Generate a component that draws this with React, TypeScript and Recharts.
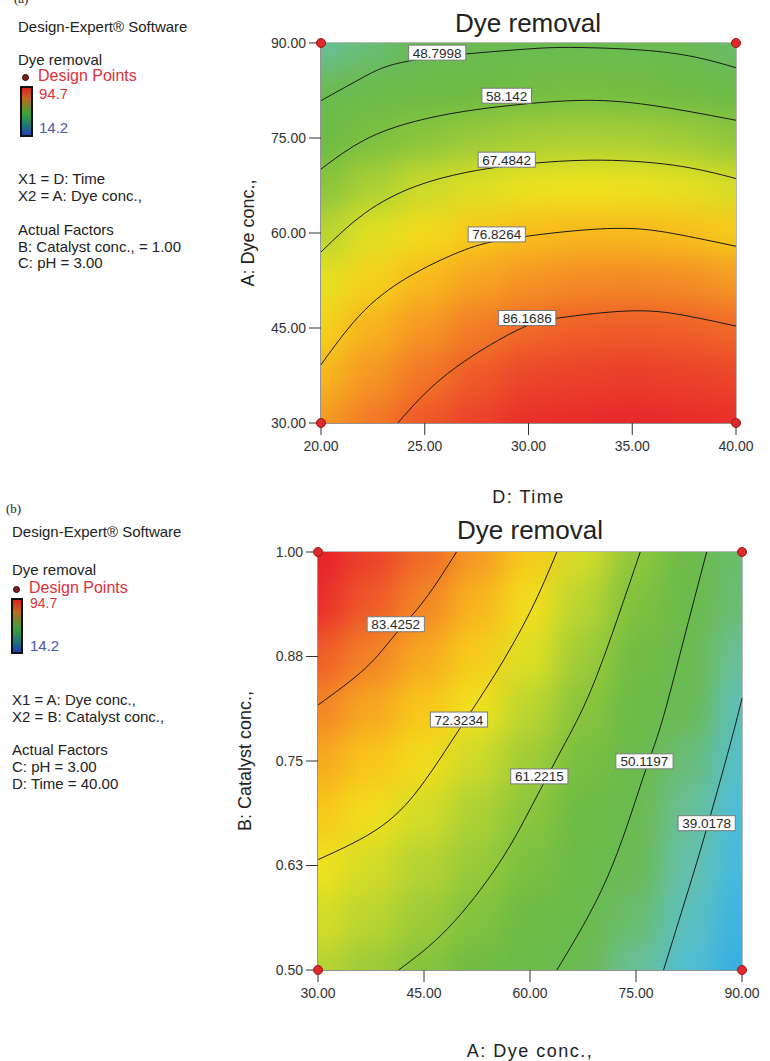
import React from "react";
import { ComposedChart, XAxis, YAxis, Scatter, ReferenceArea } from "recharts";

const FONT = '"Liberation Sans", Arial, Helvetica, sans-serif';

// ---------- panel (a): Time vs Dye conc. ----------
const timeTicks = [20, 25, 30, 35, 40];
const dyeTicksA = [30, 45, 60, 75, 90];
const gridTime = [20, 22.5, 25, 27.5, 30, 32.5, 35, 37.5, 40];
const gridDyeA = [30, 37.5, 45, 52.5, 60, 67.5, 75, 82.5, 90];
const removalA = [
  [80.9, 84.5, 88.5, 91.0, 93.0, 93.5, 93.8, 93.5, 93.0],
  [77.6, 81.2, 84.9, 88.1, 90.4, 91.0, 91.3, 91.0, 90.5],
  [73.8, 78.0, 81.1, 84.1, 86.2, 87.5, 87.9, 87.4, 86.4],
  [70.0, 74.0, 77.3, 79.8, 81.5, 82.5, 82.7, 82.2, 80.8],
  [65.5, 69.6, 72.4, 75.1, 76.8, 77.4, 77.3, 76.7, 75.0],
  [60.1, 64.1, 67.3, 69.2, 70.5, 71.0, 70.8, 70.0, 68.5],
  [53.9, 57.7, 60.3, 62.4, 63.6, 64.0, 63.8, 62.9, 61.0],
  [47.4, 50.7, 53.2, 55.0, 56.0, 56.5, 56.2, 55.1, 52.8],
  [40.9, 43.7, 46.2, 47.2, 47.7, 48.0, 47.7, 46.5, 44.4],
];
const contourA1 = [
  { x: 20, y: 80.9 }, { x: 22.1, y: 84.7 }, { x: 24.5, y: 87.3 }, { x: 29.3, y: 88.9 },
  { x: 32.1, y: 89.3 }, { x: 35.4, y: 88.9 }, { x: 38, y: 87.8 }, { x: 40, y: 86.1 },
];
const contourA2 = [
  { x: 20, y: 70.1 }, { x: 22.1, y: 74.7 }, { x: 24.5, y: 77.6 }, { x: 26.9, y: 79.2 },
  { x: 29.3, y: 80.2 }, { x: 32.1, y: 80.9 }, { x: 35.4, y: 80.4 }, { x: 40, y: 77.8 },
];
const contourA3 = [
  { x: 20, y: 57.0 }, { x: 22.1, y: 63.1 }, { x: 24.5, y: 67.3 }, { x: 26.9, y: 69.5 },
  { x: 29.3, y: 70.7 }, { x: 33, y: 71.5 }, { x: 37, y: 70.7 }, { x: 40, y: 68.6 },
];
const contourA4 = [
  { x: 20, y: 39.2 }, { x: 22.1, y: 47.8 }, { x: 24.5, y: 53.6 }, { x: 26.9, y: 57.3 },
  { x: 29.3, y: 59.2 }, { x: 33.8, y: 60.7 }, { x: 37, y: 59.9 }, { x: 40, y: 57.9 },
];
const contourA5 = [
  { x: 23.7, y: 30 }, { x: 26.1, y: 37.8 }, { x: 29.3, y: 44.4 }, { x: 31.5, y: 46.6 },
  { x: 34.9, y: 47.7 }, { x: 37.5, y: 47.0 }, { x: 40, y: 45.3 },
];
const labelsA = [
  { x: 25.6, y: 88.4, text: "48.7998" },
  { x: 28.95, y: 81.6, text: "58.142" },
  { x: 28.95, y: 71.5, text: "67.4842" },
  { x: 28.47, y: 59.7, text: "76.8264" },
  { x: 29.94, y: 46.5, text: "86.1686" },
];
const designA = [
  { x: 20, y: 90 }, { x: 40, y: 90 }, { x: 20, y: 30 }, { x: 40, y: 30 },
];

// ---------- panel (b): Dye conc. vs Catalyst conc. ----------
const dyeTicksB = [30, 45, 60, 75, 90];
const catalystTicks = [0.5, 0.625, 0.75, 0.875, 1.0];
const gridDyeB = [30, 37.5, 45, 52.5, 60, 67.5, 75, 82.5, 90];
const gridCatalyst = [0.5, 0.5625, 0.625, 0.6875, 0.75, 0.8125, 0.875, 0.9375, 1.0];
const removalB = [
  [65.3, 62.6, 59.2, 55.5, 51.7, 46.9, 41.3, 34.9, 27.9],
  [68.4, 65.8, 62.7, 58.8, 54.7, 50.6, 44.1, 37.3, 30.0],
  [71.3, 68.2, 65.2, 62.1, 57.5, 52.2, 46.1, 39.5, 32.0],
  [75.3, 72.0, 68.2, 64.3, 60.3, 54.4, 48.4, 41.1, 33.6],
  [79.1, 75.7, 72.3, 67.5, 62.8, 57.0, 50.7, 43.3, 35.8],
  [83.1, 79.3, 75.5, 71.4, 65.8, 60.1, 53.4, 46.0, 37.9],
  [87.6, 83.4, 79.0, 74.6, 69.2, 62.8, 55.8, 48.6, 41.0],
  [92.9, 88.1, 83.1, 77.7, 72.0, 65.6, 58.4, 50.6, 43.6],
  [94.5, 91.0, 86.2, 80.9, 74.9, 68.3, 61.1, 52.8, 44.2],
];
const contourB1 = [
  { x: 30, y: 0.817 }, { x: 36.7, y: 0.861 }, { x: 40.9, y: 0.901 }, { x: 45.1, y: 0.943 },
  { x: 49.6, y: 1.0 },
];
const contourB2 = [
  { x: 30, y: 0.632 }, { x: 39.0, y: 0.672 }, { x: 45.0, y: 0.725 }, { x: 50.0, y: 0.788 },
  { x: 55.0, y: 0.853 }, { x: 60.0, y: 0.928 }, { x: 63.8, y: 1.0 },
];
const contourB3 = [
  { x: 41.4, y: 0.5 }, { x: 48.4, y: 0.55 }, { x: 55.5, y: 0.626 }, { x: 60.3, y: 0.697 },
  { x: 65.0, y: 0.772 }, { x: 69.4, y: 0.851 }, { x: 75.6, y: 1.0 },
];
const contourB4 = [
  { x: 63.8, y: 0.5 }, { x: 70.9, y: 0.61 }, { x: 75.8, y: 0.725 }, { x: 78.6, y: 0.795 },
  { x: 81.6, y: 0.89 }, { x: 85.0, y: 1.0 },
];
const contourB5 = [
  { x: 78.9, y: 0.5 }, { x: 82.2, y: 0.59 }, { x: 85.0, y: 0.669 }, { x: 88.3, y: 0.769 },
  { x: 90, y: 0.825 },
];
const labelsB = [
  { x: 41.0, y: 0.913, text: "83.4252" },
  { x: 49.95, y: 0.799, text: "72.3234" },
  { x: 61.32, y: 0.731, text: "61.2215" },
  { x: 76.2, y: 0.749, text: "50.1197" },
  { x: 85.0, y: 0.675, text: "39.0178" },
];
const designB = [
  { x: 30, y: 1.0 }, { x: 90, y: 1.0 }, { x: 30, y: 0.5 }, { x: 90, y: 0.5 },
];

// Design-Expert style colour ramp
const colorStops: [number, string][] = [
  [14.2, "#2340b0"],
  [26, "#2fa8e4"],
  [33, "#48bde0"],
  [40, "#68c0a8"],
  [46, "#6abb55"],
  [55, "#6cbb44"],
  [61, "#8ec63c"],
  [66, "#bcd631"],
  [71, "#f0e41d"],
  [76, "#f8c41b"],
  [81, "#f59824"],
  [86, "#f06c28"],
  [90, "#ec4a2a"],
  [94.7, "#e6202a"],
];

function hexToRgb(h: string) {
  const n = parseInt(h.slice(1), 16);
  return [(n >> 16) & 255, (n >> 8) & 255, n & 255];
}

function colorFor(v: number) {
  if (v <= colorStops[0][0]) return colorStops[0][1];
  for (let i = 1; i < colorStops.length; i++) {
    const [v1, c1] = colorStops[i];
    if (v <= v1) {
      const [v0, c0] = colorStops[i - 1];
      const t = (v - v0) / (v1 - v0);
      const a = hexToRgb(c0);
      const b = hexToRgb(c1);
      const m = a.map((x, k) => Math.round(x + (b[k] - x) * t));
      return `rgb(${m[0]},${m[1]},${m[2]})`;
    }
  }
  return colorStops[colorStops.length - 1][1];
}

function toCells(xs: number[], ys: number[], rows: number[][]) {
  return rows.flatMap((row, i) => row.map((v, j) => ({ x: xs[j], y: ys[i], v })));
}

const heatShape = (cw: number, ch: number) => (p: any) => {
  const v = p.payload?.v ?? p.v;
  return (
    <rect
      x={p.cx - cw / 2 - 0.5}
      y={p.cy - ch / 2 - 0.5}
      width={cw + 1}
      height={ch + 1}
      fill={colorFor(v)}
    />
  );
};

const labelShape = (p: any) => {
  const text = p.payload?.text ?? p.text;
  const w = text.length * 7.6 + 4;
  return (
    <g>
      <rect x={p.cx - w / 2} y={p.cy - 8} width={w} height={15} fill="#fff" stroke="#7a7a7a" strokeWidth={1} />
      <text
        x={p.cx}
        y={p.cy + 4.5}
        textAnchor="middle"
        fontSize={13.5}
        fontFamily={FONT}
        fill="#2a2a2a"
      >
        {text}
      </text>
    </g>
  );
};

const designShape = (p: any) => (
  <circle cx={p.cx} cy={p.cy} r={4.5} fill="#dc2a2a" stroke="#a01515" strokeWidth={1} />
);

const noShape = () => <g />;

const tickStyle = { fontSize: 14, fill: "#333", fontFamily: FONT };

function Txt({
  x,
  base,
  size = 15,
  color = "#222",
  family = FONT,
  children,
}: {
  x: number;
  base: number;
  size?: number;
  color?: string;
  family?: string;
  children: React.ReactNode;
}) {
  return (
    <div
      style={{
        position: "absolute",
        left: x,
        top: base - size * 0.8465,
        fontSize: size,
        lineHeight: `${size}px`,
        fontFamily: family,
        color,
        whiteSpace: "nowrap",
      }}
    >
      {children}
    </div>
  );
}

function ColorBar({ x, y, w, h }: { x: number; y: number; w: number; h: number }) {
  return (
    <div
      style={{
        position: "absolute",
        left: x,
        top: y,
        width: w,
        height: h,
        boxSizing: "border-box",
        border: "2px solid #111",
        background: "linear-gradient(to bottom, #e02020 0%, #c06a20 22%, #3aa23a 55%, #1f7a70 78%, #2040b0 100%)",
      }}
    />
  );
}

function LegendDot({ x, y }: { x: number; y: number }) {
  return (
    <div
      style={{
        position: "absolute",
        left: x - 3.5,
        top: y - 3.5,
        width: 7,
        height: 7,
        borderRadius: "50%",
        boxSizing: "border-box",
        background: "#8b1a1a",
        border: "1.5px solid #111",
      }}
    />
  );
}

interface ContourPanelProps {
  top: number;
  height: number;
  margin: { top: number; right: number; bottom: number; left: number };
  xDomain: [number, number];
  yDomain: [number, number];
  xTicks: number[];
  yTicks: number[];
  gridX: number[];
  gridY: number[];
  values: number[][];
  contours: { x: number; y: number }[][];
  labels: { x: number; y: number; text: string }[];
  design: { x: number; y: number }[];
  xTitle: string;
  yTitle: string;
  xTitleDy: number;
}

function ContourPanel(props: ContourPanelProps) {
  const { top, height, margin, xDomain, yDomain } = props;
  const W = 770;
  const plotW = W - margin.left - 60 - margin.right;
  const plotH = height - margin.top - margin.bottom - 40;
  const cw = plotW / (props.gridX.length - 1);
  const ch = plotH / (props.gridY.length - 1);
  const cells = toCells(props.gridX, props.gridY, props.values);

  return (
    <div style={{ position: "absolute", left: 0, top }}>
      <ComposedChart width={W} height={height} margin={margin}>
        <XAxis xAxisId="h" type="number" dataKey="x" domain={xDomain} hide allowDataOverflow />
        <YAxis yAxisId="h" type="number" dataKey="y" domain={yDomain} hide allowDataOverflow />
        <XAxis
          type="number"
          dataKey="x"
          domain={xDomain}
          ticks={props.xTicks}
          interval={0}
          tickFormatter={(v: number) => v.toFixed(2)}
          tick={tickStyle}
          tickSize={12}
          tickMargin={6}
          tickLine={{ stroke: "#333" }}
          axisLine={{ stroke: "#707070" }}
          height={40}
          label={{
            content: ({ viewBox }: any) => (
              <text
                x={viewBox.x + viewBox.width / 2}
                y={viewBox.y + props.xTitleDy}
                textAnchor="middle"
                fontSize={18}
                fontFamily={FONT}
                letterSpacing={1.5}
                fill="#222"
              >
                {props.xTitle}
              </text>
            ),
          }}
        />
        <YAxis
          type="number"
          dataKey="y"
          domain={yDomain}
          ticks={props.yTicks}
          interval={0}
          tickFormatter={(v: number) => v.toFixed(2)}
          tick={tickStyle}
          tickSize={12}
          tickMargin={3}
          tickLine={{ stroke: "#333" }}
          axisLine={{ stroke: "#707070" }}
          width={60}
          label={{
            content: ({ viewBox }: any) => {
              const cx = viewBox.x - 7;
              const cy = viewBox.y + viewBox.height / 2;
              return (
                <text
                  x={cx}
                  y={cy}
                  transform={`rotate(-90, ${cx}, ${cy})`}
                  textAnchor="middle"
                  fontSize={18}
                  fontFamily={FONT}
                  fill="#222"
                >
                  {props.yTitle}
                </text>
              );
            },
          }}
        />
        <Scatter
          className="heat-layer"
          xAxisId="h"
          yAxisId="h"
          data={cells}
          dataKey="y"
          shape={heatShape(cw, ch)}
          isAnimationActive={false}
        />
        <ReferenceArea
          x1={xDomain[0]}
          x2={xDomain[1]}
          y1={yDomain[0]}
          y2={yDomain[1]}
          fill="none"
          fillOpacity={0}
          stroke="#707070"
          strokeWidth={1}
          strokeOpacity={1}
        />
        {props.contours.map((c, i) => (
          <Scatter
            key={i}
            data={c}
            dataKey="y"
            line={{ stroke: "#1a1a1a", strokeWidth: 1 }}
            lineJointType="natural"
            shape={noShape}
            isAnimationActive={false}
          />
        ))}
        <Scatter data={props.labels} dataKey="y" shape={labelShape} isAnimationActive={false} />
        <Scatter data={props.design} dataKey="y" shape={designShape} isAnimationActive={false} />
      </ComposedChart>
    </div>
  );
}

export default function App() {
  return (
    <div
      style={{
        position: "absolute",
        left: 0,
        top: 0,
        width: 770,
        height: 1061,
        overflow: "hidden",
        background: "#fff",
        fontFamily: FONT,
      }}
    >
      <style>{`.heat-layer { filter: url(#heatBlur); }`}</style>
      <svg width={0} height={0} style={{ position: "absolute" }}>
        <defs>
          <filter id="heatBlur" x="-10%" y="-10%" width="120%" height="120%" colorInterpolationFilters="sRGB">
            <feGaussianBlur stdDeviation={15} />
            <feComponentTransfer>
              <feFuncA type="linear" slope={60} intercept={0} />
            </feComponentTransfer>
          </filter>
        </defs>
      </svg>

      {/* panel (a) */}
      <Txt x={14} base={3} size={13} family='"Liberation Serif", "Times New Roman", serif'>(a)</Txt>
      <Txt x={18} base={32}>Design-Expert® Software</Txt>
      <Txt x={18} base={65}>Dye removal</Txt>
      <LegendDot x={25} y={77} />
      <Txt x={38} base={82} size={16} color="#e0303a">Design Points</Txt>
      <ColorBar x={20} y={86} w={13} h={51} />
      <Txt x={39} base={99} color="#e0303a">94.7</Txt>
      <Txt x={39} base={133} color="#4a58b0">14.2</Txt>
      <Txt x={18} base={184}>X1 = D: Time</Txt>
      <Txt x={18} base={201}>X2 = A: Dye conc.,</Txt>
      <Txt x={18} base={235}>Actual Factors</Txt>
      <Txt x={18} base={252}>B: Catalyst conc., = 1.00</Txt>
      <Txt x={18} base={268}>C: pH = 3.00</Txt>
      <div
        style={{
          position: "absolute",
          left: 328,
          width: 400,
          top: 33 - 26 * 0.9465,
          textAlign: "center",
          fontSize: 26,
          lineHeight: `${26 * 1.2}px`,
          color: "#222",
        }}
      >
        Dye removal
      </div>
      <ContourPanel
        top={0}
        height={520}
        margin={{ top: 43, right: 34, bottom: 57, left: 261 }}
        xDomain={[20, 40]}
        yDomain={[30, 90]}
        xTicks={timeTicks}
        yTicks={dyeTicksA}
        gridX={gridTime}
        gridY={gridDyeA}
        values={removalA}
        contours={[contourA1, contourA2, contourA3, contourA4, contourA5]}
        labels={labelsA}
        design={designA}
        xTitle="D: Time"
        yTitle="A: Dye conc.,"
        xTitleDy={80}
      />

      {/* panel (b) */}
      <Txt x={6} base={513} size={13} family='"Liberation Serif", "Times New Roman", serif'>(b)</Txt>
      <Txt x={12} base={537}>Design-Expert® Software</Txt>
      <Txt x={12} base={575}>Dye removal</Txt>
      <LegendDot x={16} y={589} />
      <Txt x={29} base={594} size={16} color="#e0303a">Design Points</Txt>
      <ColorBar x={11} y={598} w={12} h={56} />
      <Txt x={30} base={608} size={14} color="#e0303a">94.7</Txt>
      <Txt x={30} base={651} color="#4a58b0">14.2</Txt>
      <Txt x={12} base={705}>X1 = A: Dye conc.,</Txt>
      <Txt x={12} base={722}>X2 = B: Catalyst conc.,</Txt>
      <Txt x={12} base={755}>Actual Factors</Txt>
      <Txt x={12} base={772}>C: pH = 3.00</Txt>
      <Txt x={12} base={789}>D: Time = 40.00</Txt>
      <div
        style={{
          position: "absolute",
          left: 330,
          width: 400,
          top: 540 - 26 * 0.9465,
          textAlign: "center",
          fontSize: 26,
          lineHeight: `${26 * 1.2}px`,
          color: "#222",
        }}
      >
        Dye removal
      </div>
      <ContourPanel
        top={500}
        height={561}
        margin={{ top: 52, right: 28, bottom: 51, left: 258 }}
        xDomain={[30, 90]}
        yDomain={[0.5, 1.0]}
        xTicks={dyeTicksB}
        yTicks={catalystTicks}
        gridX={gridDyeB}
        gridY={gridCatalyst}
        values={removalB}
        contours={[contourB1, contourB2, contourB3, contourB4, contourB5]}
        labels={labelsB}
        design={designB}
        xTitle="A: Dye conc.,"
        yTitle="B: Catalyst conc.,"
        xTitleDy={87}
      />
    </div>
  );
}
